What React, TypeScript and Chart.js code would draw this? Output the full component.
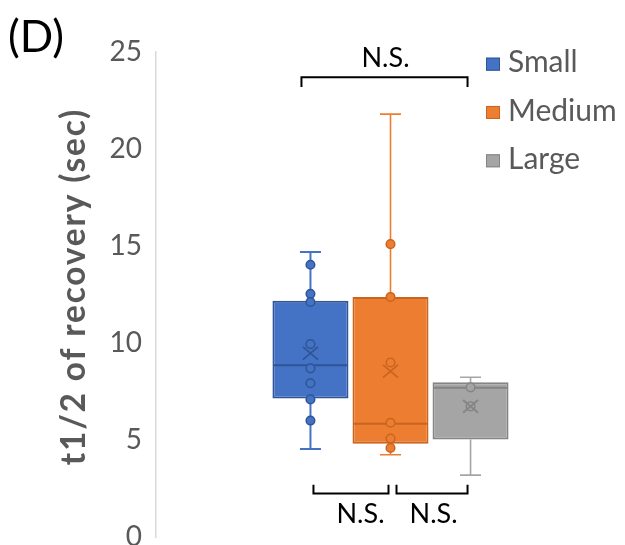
import React, { useEffect, useRef } from "react";
import { Chart, registerables } from "chart.js";

Chart.register(...registerables);

// ---- data ----
const groups = ["Small", "Medium", "Large"];
const whiskerLow = [4.55, 4.25, 3.2];
const q1 = [7.15, 4.82, 5.03];
const median = [8.86, 5.85, 7.7];
const q3 = [12.18, 12.38, 7.98];
const whiskerHigh = [14.7, 21.8, 8.24];
const mean = [9.48, 8.55, 6.74];
const smallPoints = [14.04, 12.54, 12.12, 9.95, 8.7, 7.93, 7.1, 6.01];
const mediumPoints = [15.1, 12.38, 9.0, 5.9, 5.08, 4.6];
const largePoints = [7.72, 6.74];
const groupPoints = [smallPoints, mediumPoints, largePoints];
const yTicks = [0, 5, 10, 15, 20, 25];
const yTitle = "t1/2 of recovery (sec)";
const panelLabel = "(D)";
const nsLabel = "N.S.";

// ---- styles ----
const fillColors = ["#4472C4", "#ED7D31", "#A5A5A5"];
const darkColors = ["#2F5597", "#C9651F", "#858585"];
const FONT = "Lato, 'Open Sans', sans-serif";

const boxPlugin = {
  id: "boxExtras",
  beforeDatasetsDraw(chart: any) {
    const ctx = chart.ctx;
    const y = chart.scales.y;
    ctx.save();
    groups.forEach((_, i) => {
      const bar = chart.getDatasetMeta(i).data[0];
      if (!bar) return;
      const cx = bar.x;
      const capHalf = 10.5;
      ctx.strokeStyle = fillColors[i];
      ctx.lineWidth = i === 0 ? 2 : 1.6;
      ctx.beginPath();
      ctx.moveTo(cx, y.getPixelForValue(q3[i]));
      ctx.lineTo(cx, y.getPixelForValue(whiskerHigh[i]));
      ctx.moveTo(cx, y.getPixelForValue(q1[i]));
      ctx.lineTo(cx, y.getPixelForValue(whiskerLow[i]));
      ctx.moveTo(cx - capHalf, y.getPixelForValue(whiskerHigh[i]));
      ctx.lineTo(cx + capHalf, y.getPixelForValue(whiskerHigh[i]));
      ctx.moveTo(cx - capHalf, y.getPixelForValue(whiskerLow[i]));
      ctx.lineTo(cx + capHalf, y.getPixelForValue(whiskerLow[i]));
      ctx.stroke();
    });
    ctx.restore();
  },
  afterDatasetsDraw(chart: any) {
    const ctx = chart.ctx;
    const y = chart.scales.y;
    const area = chart.chartArea;
    const bars = groups.map((_, i) => chart.getDatasetMeta(i).data[0]);
    ctx.save();
    groups.forEach((_, i) => {
      const bar = bars[i];
      if (!bar) return;
      const cx = bar.x;
      const half = bar.width / 2;
      // median
      ctx.strokeStyle = darkColors[i];
      ctx.lineWidth = 2;
      const my = y.getPixelForValue(median[i]);
      ctx.beginPath();
      ctx.moveTo(cx - half + 1, my);
      ctx.lineTo(cx + half - 1, my);
      ctx.stroke();
      // points
      groupPoints[i].forEach((v) => {
        const py = y.getPixelForValue(v);
        ctx.beginPath();
        ctx.arc(cx, py, 4.3, 0, Math.PI * 2);
        ctx.fillStyle = fillColors[i];
        ctx.fill();
        ctx.lineWidth = 1.5;
        ctx.strokeStyle = darkColors[i];
        ctx.stroke();
      });
      // mean X
      const mY = y.getPixelForValue(mean[i]);
      const s = 7.5;
      ctx.lineWidth = 1.8;
      ctx.strokeStyle = darkColors[i];
      ctx.beginPath();
      ctx.moveTo(cx - s, mY - s * 0.85);
      ctx.lineTo(cx + s, mY + s * 0.85);
      ctx.moveTo(cx + s, mY - s * 0.85);
      ctx.lineTo(cx - s, mY + s * 0.85);
      ctx.stroke();
    });

    // significance brackets
    const [b0, b1, b2] = bars;
    const drawBracket = (x1: number, x2: number, lineV: number, legV: number) => {
      const ly = y.getPixelForValue(lineV);
      const gy = y.getPixelForValue(legV);
      ctx.strokeStyle = "#000000";
      ctx.lineWidth = 2;
      ctx.beginPath();
      ctx.moveTo(x1, gy);
      ctx.lineTo(x1, ly);
      ctx.lineTo(x2, ly);
      ctx.lineTo(x2, gy);
      ctx.stroke();
    };
    ctx.font = `27px ${FONT}`;
    ctx.fillStyle = "#000000";
    ctx.textAlign = "center";
    ctx.textBaseline = "middle";
    if (b0 && b1 && b2) {
      drawBracket(b0.x - 9, b2.x - 3, 23.7, 23.2);
      ctx.fillText(nsLabel, b1.x - 5, y.getPixelForValue(24.7));
      drawBracket(b0.x + 3, b1.x - 2, 2.25, 2.7);
      drawBracket(b1.x + 6, b2.x - 3, 2.25, 2.7);
      ctx.fillText(nsLabel, b1.x - 30, y.getPixelForValue(1.2));
      ctx.fillText(nsLabel, b2.x - 37, y.getPixelForValue(1.2));
    }

    // legend
    ctx.font = `30px ${FONT}`;
    ctx.textAlign = "left";
    groups.forEach((g, i) => {
      const rowY = y.getPixelForValue(24.45) + i * 48.3;
      const lx = area.right - 139;
      ctx.fillStyle = fillColors[i];
      ctx.fillRect(lx, rowY - 5, 14, 13);
      ctx.strokeStyle = darkColors[i];
      ctx.lineWidth = 1;
      ctx.strokeRect(lx + 0.5, rowY - 4.5, 13, 12);
      ctx.fillStyle = "#595959";
      ctx.fillText(g, lx + 22, rowY);
    });

    // y-axis title
    ctx.save();
    ctx.translate(74, (area.top + area.bottom) / 2 - 8);
    ctx.rotate(-Math.PI / 2);
    ctx.font = `bold 33.5px ${FONT}`;
    (ctx as any).letterSpacing = "1.8px";
    ctx.fillStyle = "#595959";
    ctx.textAlign = "center";
    ctx.textBaseline = "middle";
    ctx.fillText(yTitle, 0, 0);
    ctx.restore();

    // panel label
    ctx.font = `44px ${FONT}`;
    ctx.fillStyle = "#000000";
    ctx.textAlign = "left";
    ctx.textBaseline = "middle";
    ctx.fillText(panelLabel, 8, 38);
    ctx.restore();
  },
};

export default function App() {
  const ref = useRef<HTMLCanvasElement | null>(null);
  useEffect(() => {
    if (!ref.current) return;
    const chart = new Chart(ref.current, {
      type: "bar",
      data: {
        labels: ["all"],
        datasets: groups.map((g, i) => ({
          label: g,
          data: [[q1[i], q3[i]]] as any,
          backgroundColor: fillColors[i],
          borderColor: darkColors[i],
          borderWidth: 2,
          borderSkipped: false,
          categoryPercentage: 0.512,
          barPercentage: 0.95,
        })),
      },
      options: {
        animation: false,
        responsive: false,
        maintainAspectRatio: false,
        layout: { padding: { left: 89, top: 52, right: 0, bottom: 0 } },
        plugins: {
          legend: { display: false },
          tooltip: { enabled: false },
        },
        scales: {
          x: { display: false },
          y: {
            min: 0,
            max: 25,
            afterBuildTicks: (axis: any) => {
              axis.ticks = yTicks.map((v) => ({ value: v }));
            },
            afterFit: (axis: any) => {
              axis.width = 67;
            },
            grid: { display: false, drawTicks: false },
            border: { display: true, color: "#D9D9D9", width: 1.5 },
            ticks: {
              color: "#595959",
              font: { family: FONT, size: 28 },
              padding: 14,
            },
            title: { display: false },
          },
        },
      },
      plugins: [boxPlugin],
    });
    return () => chart.destroy();
  }, []);
  return (
    <div style={{ position: "absolute", left: 0, top: 0, width: 625, height: 545, overflow: "hidden" }}>
      <canvas ref={ref} width={625} height={568} style={{ display: "block" }} />
    </div>
  );
}
